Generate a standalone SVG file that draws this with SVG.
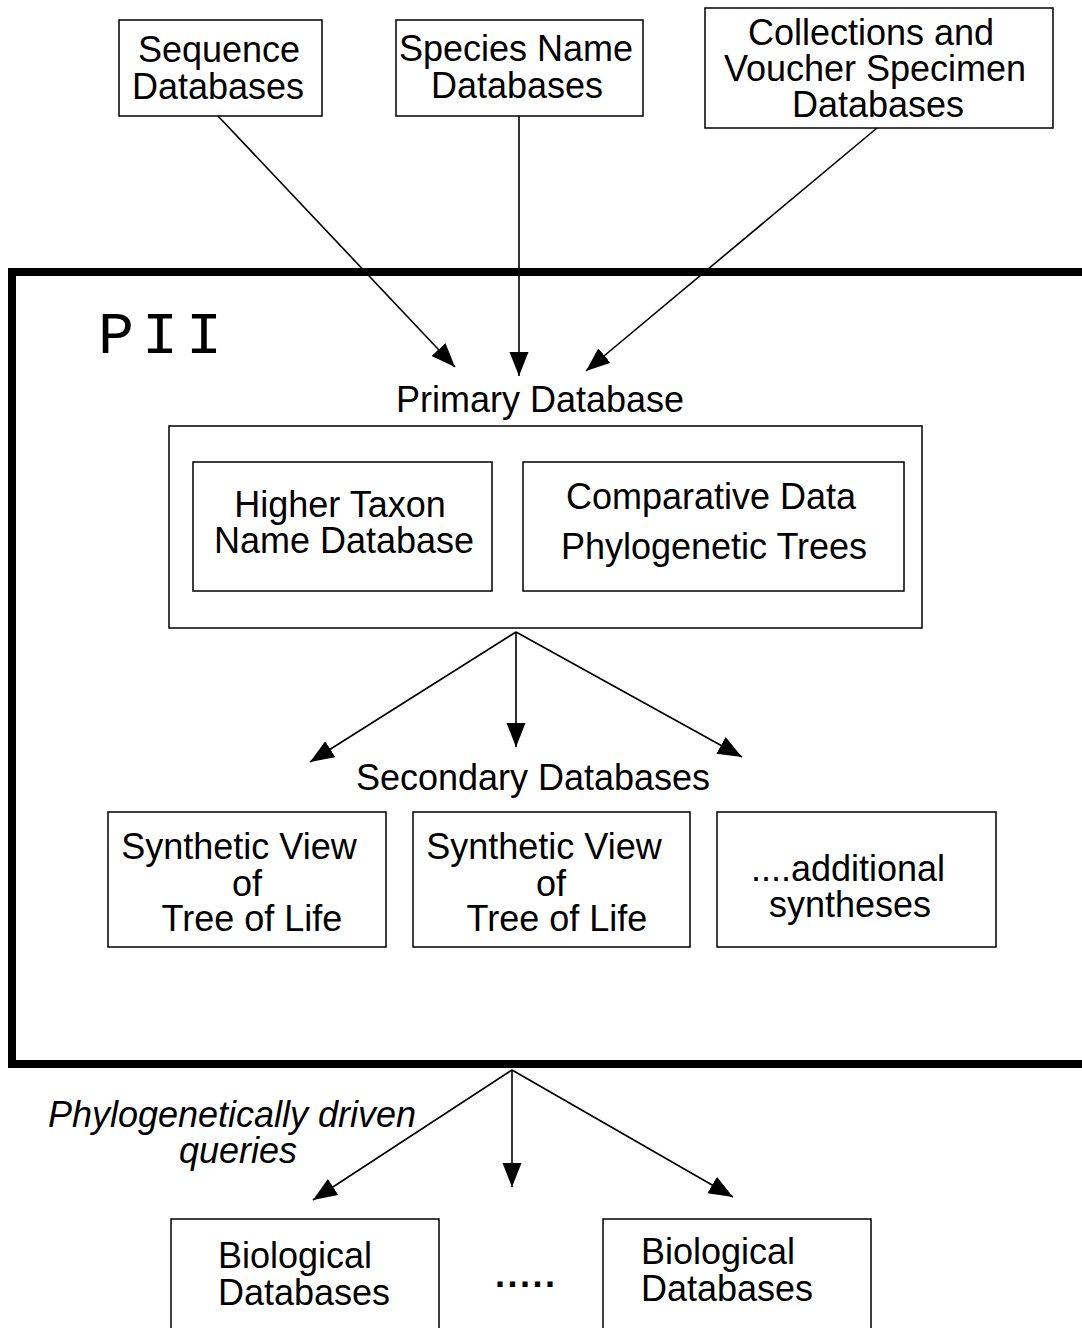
<svg xmlns="http://www.w3.org/2000/svg" width="1082" height="1328" viewBox="0 0 1082 1328">
<defs>
<style>
.box{fill:#fff;stroke:#000;stroke-width:1.5}
.t{font-family:"Liberation Sans",Arial,sans-serif;font-size:36px;fill:#000}
.m{text-anchor:middle}
.conn line{stroke:#000;stroke-width:1.6;marker-end:url(#ah)}
</style>
<marker id="ah" markerUnits="userSpaceOnUse" markerWidth="26" markerHeight="20" refX="24" refY="9.5" orient="auto">
<path d="M0,0 L24,9.5 L0,19 z" fill="#000"/>
</marker>
</defs>
<rect width="1082" height="1328" fill="#fff"/>

<g id="pii">
<rect x="12" y="272" width="1080" height="792" fill="none" stroke="#000" stroke-width="8"/>
<text x="98" y="353" font-family="Liberation Mono,'Courier New',monospace" font-size="60" letter-spacing="8" fill="#000">PII</text>
</g>

<g id="seq">
<rect class="box" x="119" y="20" width="203" height="96"/>
<text class="t m" x="219" y="62">Sequence</text>
<text class="t m" x="218" y="99">Databases</text>
</g>
<g id="species">
<rect class="box" x="396" y="20" width="247" height="96"/>
<text class="t m" x="516" y="61">Species Name</text>
<text class="t m" x="517" y="98">Databases</text>
</g>
<g id="collections">
<rect class="box" x="705" y="8" width="348" height="120"/>
<text class="t m" x="871" y="45">Collections and</text>
<text class="t m" x="875" y="81">Voucher Specimen</text>
<text class="t m" x="878" y="117">Databases</text>
</g>

<g id="primary">
<text class="t m" x="540" y="412">Primary Database</text>
<rect class="box" x="169" y="426" width="753" height="202"/>
</g>
<g id="higher">
<rect class="box" x="193" y="462" width="299" height="129"/>
<text class="t m" x="340" y="517">Higher Taxon</text>
<text class="t m" x="344" y="553">Name Database</text>
</g>
<g id="comparative">
<rect class="box" x="523" y="462" width="381" height="129"/>
<text class="t m" x="711" y="509">Comparative Data</text>
<text class="t m" x="714" y="559">Phylogenetic Trees</text>
</g>

<g id="secondary">
<text class="t m" x="533" y="790">Secondary Databases</text>
</g>
<g id="syn1">
<rect class="box" x="108" y="812" width="278" height="135"/>
<text class="t m" x="239" y="859">Synthetic View</text>
<text class="t m" x="247" y="896">of</text>
<text class="t m" x="252" y="931">Tree of Life</text>
</g>
<g id="syn2">
<rect class="box" x="413" y="812" width="277" height="135"/>
<text class="t m" x="544" y="859">Synthetic View</text>
<text class="t m" x="551" y="896">of</text>
<text class="t m" x="557" y="931">Tree of Life</text>
</g>
<g id="syn3">
<rect class="box" x="717" y="812" width="279" height="135"/>
<text class="t m" x="848" y="881">....additional</text>
<text class="t m" x="850" y="917">syntheses</text>
</g>

<g id="query-label">
<text class="t m" x="232" y="1127" font-style="italic">Phylogenetically driven</text>
<text class="t m" x="238" y="1163" font-style="italic">queries</text>
</g>

<g id="bio1">
<rect class="box" x="171" y="1219" width="268" height="130"/>
<text class="t" x="218" y="1268">Biological</text>
<text class="t" x="218" y="1305">Databases</text>
</g>
<g id="dots">
<text class="t" x="495" y="1287" font-weight="bold" font-size="45" letter-spacing="2.5">.....</text>
</g>
<g id="bio2">
<rect class="box" x="603" y="1219" width="268" height="130"/>
<text class="t" x="641" y="1264">Biological</text>
<text class="t" x="641" y="1301">Databases</text>
</g>

<g class="conn" id="connectors">
<line x1="218" y1="116" x2="455" y2="367"/>
<line x1="519" y1="116" x2="519" y2="376"/>
<line x1="877" y1="128" x2="586" y2="371"/>
<line x1="516" y1="632" x2="310" y2="762"/>
<line x1="516" y1="632" x2="516" y2="747"/>
<line x1="516" y1="632" x2="742" y2="757"/>
<line x1="512" y1="1070" x2="313" y2="1200"/>
<line x1="512" y1="1070" x2="512" y2="1187"/>
<line x1="512" y1="1070" x2="733" y2="1197"/>
</g>
</svg>
